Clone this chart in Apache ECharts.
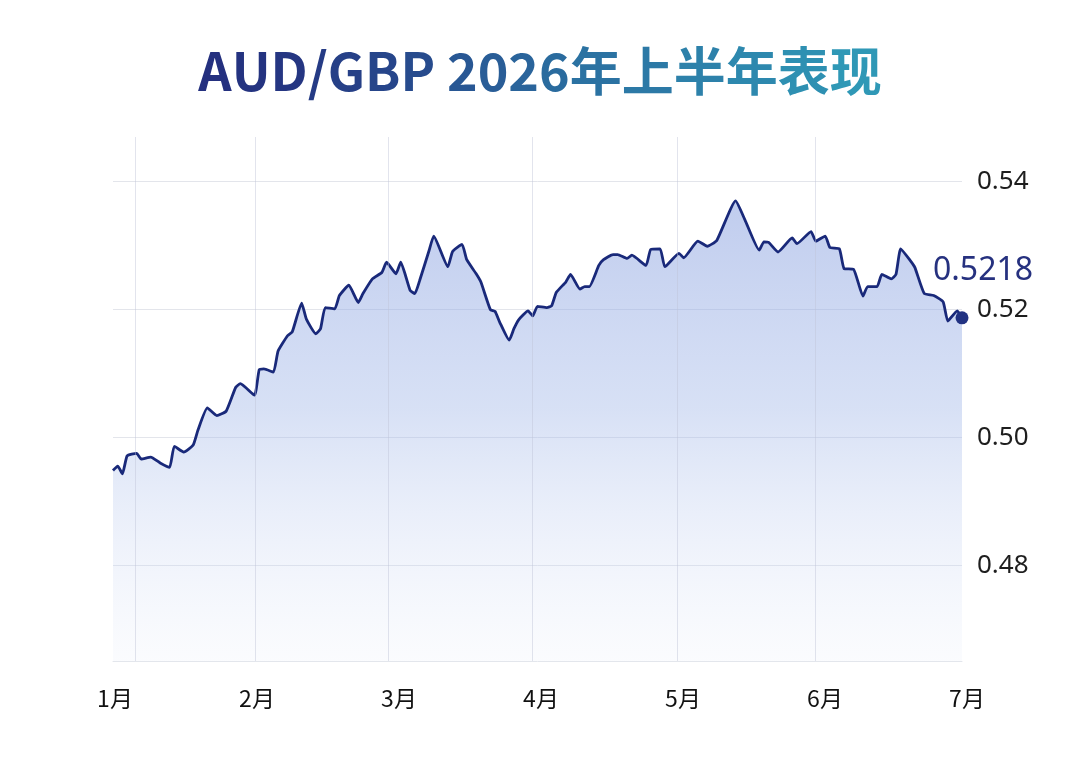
<!DOCTYPE html>
<html>
<head>
<meta charset="utf-8">
<script src="https://cdn.jsdelivr.net/npm/echarts@6/dist/echarts.min.js"></script>
<style>
  html, body { margin: 0; padding: 0; background: #ffffff; }
  #chart { width: 1080px; height: 767px; }
</style>
</head>
<body>
<div id="chart"></div>
<script>
// ---- data ----
const titleText = 'AUD/GBP 2026年上半年表现';
const dates = [
  '2026-01-01','2026-01-02','2026-01-03','2026-01-04','2026-01-06','2026-01-07','2026-01-09','2026-01-11','2026-01-13','2026-01-14',
  '2026-01-16','2026-01-18','2026-01-19','2026-01-21','2026-01-23','2026-01-25','2026-01-27','2026-01-28','2026-01-31','2026-02-01',
  '2026-02-02','2026-02-04','2026-02-05','2026-02-07','2026-02-08','2026-02-10','2026-02-11','2026-02-13','2026-02-14','2026-02-15',
  '2026-02-17','2026-02-18','2026-02-20','2026-02-22','2026-02-23','2026-02-25','2026-02-27','2026-02-28','2026-03-02','2026-03-03',
  '2026-03-05','2026-03-06','2026-03-07','2026-03-09','2026-03-10','2026-03-13','2026-03-14','2026-03-16','2026-03-17','2026-03-19',
  '2026-03-20','2026-03-22','2026-03-23','2026-03-24','2026-03-26','2026-03-27','2026-03-28','2026-03-30','2026-03-31','2026-04-01',
  '2026-04-03','2026-04-04','2026-04-05','2026-04-07','2026-04-08','2026-04-10','2026-04-11','2026-04-12','2026-04-14','2026-04-15',
  '2026-04-17','2026-04-18','2026-04-20','2026-04-21','2026-04-24','2026-04-25','2026-04-27','2026-04-28','2026-05-01','2026-05-02',
  '2026-05-05','2026-05-07','2026-05-09','2026-05-13','2026-05-15','2026-05-18','2026-05-19','2026-05-20','2026-05-22','2026-05-25',
  '2026-05-26','2026-05-29','2026-05-30','2026-06-01','2026-06-02','2026-06-04','2026-06-05','2026-06-07','2026-06-09','2026-06-10',
  '2026-06-12','2026-06-13','2026-06-15','2026-06-16','2026-06-17','2026-06-19','2026-06-20','2026-06-22','2026-06-24','2026-06-26',
  '2026-06-27','2026-06-29','2026-06-30'
];
const rates = [
  0.4948,0.4955,0.4943,0.4971,0.4975,0.4966,0.4969,0.4960,0.4953,0.4986,
  0.4977,0.4988,0.5011,0.5046,0.5034,0.5041,0.5078,0.5084,0.5066,0.5106,
  0.5107,0.5102,0.5135,0.5159,0.5165,0.5210,0.5185,0.5162,0.5170,0.5203,
  0.5201,0.5222,0.5238,0.5211,0.5225,0.5248,0.5258,0.5274,0.5256,0.5274,
  0.5230,0.5225,0.5245,0.5292,0.5315,0.5267,0.5291,0.5302,0.5278,0.5256,
  0.5243,0.5200,0.5197,0.5180,0.5152,0.5170,0.5184,0.5198,0.5190,0.5205,
  0.5203,0.5206,0.5227,0.5243,0.5255,0.5232,0.5236,0.5236,0.5269,0.5278,
  0.5286,0.5286,0.5280,0.5285,0.5269,0.5294,0.5295,0.5267,0.5288,0.5281,
  0.5307,0.5299,0.5308,0.5370,0.5340,0.5293,0.5306,0.5305,0.5290,0.5312,
  0.5303,0.5322,0.5307,0.5315,0.5297,0.5295,0.5264,0.5263,0.5221,0.5236,
  0.5236,0.5255,0.5248,0.5255,0.5295,0.5277,0.5266,0.5225,0.5222,0.5212,
  0.5182,0.5198,0.5187
];
const monthLabels = ['1月','2月','3月','4月','5月','6月','7月'];
const yTicks = [0.48, 0.50, 0.52, 0.54];
const gridDates = ['2026-01-05T16:00','2026-01-31T02:00','2026-02-28T07:00','2026-03-30T19:00','2026-04-30T14:00','2026-05-29T19:00'];
const lastLabel = '0.5218';

// ---- helpers (styling only) ----
function mix(c1, c2, t) {
  const a = c1.match(/\w\w/g).map(h => parseInt(h, 16));
  const b = c2.match(/\w\w/g).map(h => parseInt(h, 16));
  return 'rgb(' + a.map((v, i) => Math.round(v + (b[i] - v) * t)).join(',') + ')';
}
function gradientTitle(text, c1, c2, font) {
  const chars = Array.from(text);
  const rich = {};
  let s = '';
  chars.forEach((ch, i) => {
    const key = 'c' + i;
    const t = i / (chars.length - 1);
    rich[key] = { fill: mix(c1, c2, Math.pow(t, 1.3)), font: font };
    s += '{' + key + '|' + ch + '}';
  });
  return { text: s, rich: rich };
}

// ---- chart ----
const chart = echarts.init(document.getElementById('chart'), null, { renderer: 'canvas' });
const lineData = dates.map((d, i) => [d, rates[i]]);
const lastPoint = lineData[lineData.length - 1];
const titleFont = 'bold 52px "Noto Sans CJK SC", "Noto Sans", sans-serif';
const tt = gradientTitle(titleText, '24307f', '2f98b6', titleFont);

const option = {
  backgroundColor: '#ffffff',
  animation: false,
  graphic: [{
    type: 'text',
    x: 540, y: 71,
    style: {
      text: tt.text,
      rich: tt.rich,
      align: 'center',
      verticalAlign: 'middle',
      font: titleFont
    }
  }],
  grid: [
    { left: 113, right: 118, top: 137, bottom: 106 },
    { left: 115, right: 113, top: 137, bottom: 106 }
  ],
  xAxis: [
    {
      type: 'time',
      gridIndex: 0,
      min: '2026-01-01',
      max: '2026-06-30',
      axisLine: { show: true, lineStyle: { color: '#e3e6ec', width: 1 } },
      axisTick: { show: false },
      axisLabel: { show: false },
      splitLine: { show: false }
    },
    {
      type: 'category',
      gridIndex: 1,
      data: monthLabels,
      boundaryGap: false,
      axisLine: { show: false },
      axisTick: { show: false },
      splitLine: { show: false },
      axisLabel: {
        show: true,
        interval: 0,
        margin: 26,
        color: '#111111',
        fontSize: 23,
        fontFamily: '"Noto Sans CJK SC", "Noto Sans", sans-serif'
      }
    }
  ],
  yAxis: [
    {
      type: 'value',
      gridIndex: 0,
      position: 'right',
      min: 0.465,
      max: 0.547,
      axisLine: { show: false },
      axisTick: { show: false, customValues: yTicks },
      axisLabel: {
        show: true,
        customValues: yTicks,
        margin: 15,
        color: '#1e1e1e',
        fontSize: 26,
        fontFamily: '"Noto Sans", "Noto Sans CJK SC", sans-serif',
        formatter: v => v.toFixed(2)
      },
      splitLine: { show: true, lineStyle: { color: '#e3e5eb', width: 1 } }
    },
    {
      type: 'value',
      gridIndex: 1,
      show: false,
      min: 0, max: 1
    }
  ],
  series: [
    {
      type: 'line',
      xAxisIndex: 0,
      yAxisIndex: 0,
      data: [],
      z: 1,
      silent: true,
      markLine: {
        silent: true,
        symbol: 'none',
        label: { show: false },
        lineStyle: { color: 'rgba(190, 196, 214, 0.45)', width: 1, type: 'solid' },
        data: gridDates.map(d => ({ xAxis: d }))
      }
    },
    {
      type: 'line',
      xAxisIndex: 0,
      yAxisIndex: 0,
      data: lineData,
      z: 3,
      showSymbol: false,
      smooth: 0.15,
      lineStyle: { color: '#19297a', width: 2.8 },
      areaStyle: {
        color: new echarts.graphic.LinearGradient(0, 0, 0, 1, [
          { offset: 0, color: 'rgba(140, 163, 224, 0.78)' },
          { offset: 0.45, color: 'rgba(160, 182, 232, 0.6)' },
          { offset: 1, color: 'rgba(225, 232, 248, 0.22)' }
        ]),
        origin: 'start'
      }
    },
    {
      type: 'scatter',
      xAxisIndex: 0,
      yAxisIndex: 0,
      data: [lastPoint],
      z: 4,
      symbolSize: 13,
      itemStyle: { color: '#223282', opacity: 1 },
      label: {
        show: true,
        position: 'top',
        offset: [21, -19],
        formatter: () => lastLabel,
        color: '#26317f',
        opacity: 1,
        fontSize: 32,
        fontFamily: '"Noto Sans", "Noto Sans CJK SC", sans-serif'
      }
    }
  ]
};
chart.setOption(option);
</script>
</body>
</html>
